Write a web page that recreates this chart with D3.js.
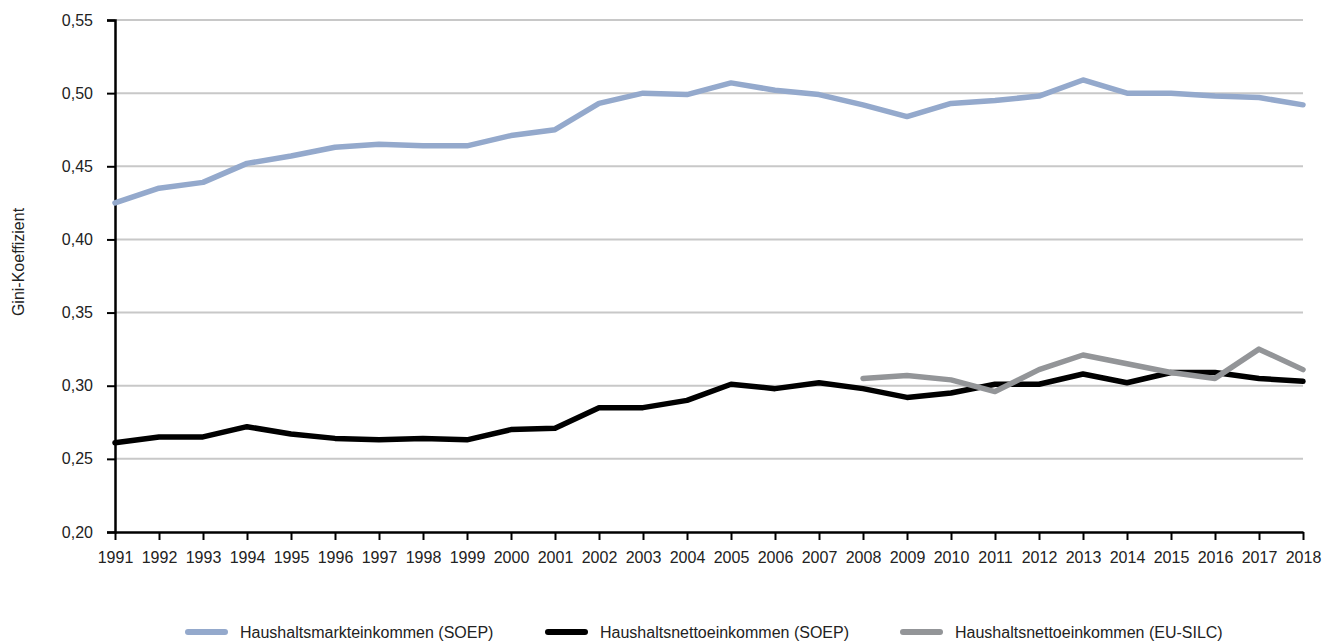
<!DOCTYPE html>
<html><head><meta charset="utf-8">
<script src="https://cdn.jsdelivr.net/npm/d3@7"></script>
<style>
body{margin:0;background:#fff;}
text{font-family:"Liberation Sans",Arial,sans-serif;}
</style></head>
<body><svg id="c" width="1332" height="644"></svg>
<script>
const years = d3.range(1991, 2019);
const marketSOEP = [0.425,0.435,0.439,0.452,0.457,0.463,0.465,0.464,0.464,0.471,0.475,0.493,0.500,0.499,0.507,0.502,0.499,0.492,0.484,0.493,0.495,0.498,0.509,0.500,0.500,0.498,0.497,0.492];
const netSOEP = [0.261,0.265,0.265,0.272,0.267,0.264,0.263,0.264,0.263,0.270,0.271,0.285,0.285,0.290,0.301,0.298,0.302,0.298,0.292,0.295,0.301,0.301,0.308,0.302,0.309,0.309,0.305,0.303];
const silcYears = d3.range(2008, 2019);
const netSILC = [0.305,0.307,0.304,0.296,0.311,0.321,0.315,0.309,0.305,0.325,0.311];
const yTicks = [0.20,0.25,0.30,0.35,0.40,0.45,0.50,0.55];
const seriesNames = ["Haushaltsmarkteinkommen (SOEP)","Haushaltsnettoeinkommen (SOEP)","Haushaltsnettoeinkommen (EU-SILC)"];
const colors = ["#94a9cc","#000000","#939598"];

const svg = d3.select("#c");
const x = d3.scaleLinear().domain([1991,2018]).range([115,1303]);
const y = d3.scaleLinear().domain([0.20,0.55]).range([532,20]);
const fmt = v => d3.format(".2f")(v).replace(".", ",");

// gridlines
svg.append("g").selectAll("line").data(yTicks.filter(t=>t>0.2)).join("line")
  .attr("x1",115).attr("x2",1303).attr("y1",d=>y(d)).attr("y2",d=>y(d))
  .attr("stroke","#c8c8c8").attr("stroke-width",2);

// y axis
const ya = svg.append("g").attr("transform","translate(115,0)")
  .call(d3.axisLeft(y).tickValues(yTicks).tickFormat(fmt).tickSize(8).tickPadding(14));
ya.select(".domain").attr("stroke","#000").attr("stroke-width",2.5);
ya.selectAll(".tick line").attr("stroke","#000").attr("stroke-width",2);
ya.selectAll("text").attr("font-size",16).attr("fill","#222").style("font-family","'Liberation Sans',Arial,sans-serif");

// x axis
const xa = svg.append("g").attr("transform","translate(0,532)")
  .call(d3.axisBottom(x).tickValues(years).tickFormat(d3.format("d")).tickSize(8).tickSizeOuter(0).tickPadding(12));
xa.select(".domain").attr("stroke","#000").attr("stroke-width",2.5);
xa.selectAll(".tick line").attr("stroke","#000").attr("stroke-width",2);
xa.selectAll("text").attr("font-size",16).attr("fill","#222").style("font-family","'Liberation Sans',Arial,sans-serif");

// y label
svg.append("text").attr("transform","translate(18,262) rotate(-90)")
  .attr("text-anchor","middle").attr("dominant-baseline","central")
  .attr("font-size",16).attr("fill","#222").text("Gini-Koeffizient");

const line = d3.line().x(d=>x(d[0])).y(d=>y(d[1]));
const data = [
  years.map((yr,i)=>[yr,marketSOEP[i]]),
  years.map((yr,i)=>[yr,netSOEP[i]]),
  silcYears.map((yr,i)=>[yr,netSILC[i]])
];
data.forEach((d,i)=>{
  svg.append("path").datum(d).attr("d",line).attr("fill","none")
    .attr("stroke",colors[i]).attr("stroke-width",5.5)
    .attr("stroke-linejoin","round").attr("stroke-linecap","round");
});

// legend
const legX = [185,545,900];
seriesNames.forEach((n,i)=>{
  const g = svg.append("g").attr("transform",`translate(${legX[i]},632)`);
  g.append("line").attr("x1",3).attr("x2",40).attr("y1",0).attr("y2",0)
    .attr("stroke",colors[i]).attr("stroke-width",6).attr("stroke-linecap","round");
  g.append("text").attr("x",55).attr("y",0).attr("dominant-baseline","central")
    .attr("font-size",16).attr("fill","#222").text(n);
});
</script></body></html>
